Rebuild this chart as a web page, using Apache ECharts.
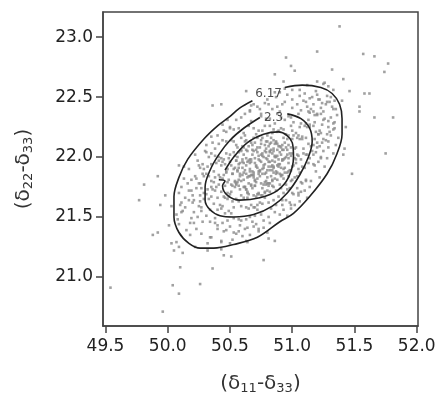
<!DOCTYPE html>
<html>
<head>
<meta charset="utf-8">
<script src="https://cdn.jsdelivr.net/npm/echarts@6/dist/echarts.min.js"></script>
<style>
html, body { margin: 0; padding: 0; background: #fff; }
#main { width: 437px; height: 393px; }
</style>
</head>
<body>
<div id="main"></div>
<script>
var xTicks = [49.5, 50.0, 50.5, 51.0, 51.5, 52.0];
var yTicks = [21.0, 21.5, 22.0, 22.5, 23.0];

// points, dense middle of the cloud
var cloudCore = [
  [50.70,21.95],[50.87,21.88],[50.51,21.93],[51.05,21.90],[50.64,21.96],[50.77,21.91],[50.35,21.94],[50.94,21.87],[50.83,21.92],[50.58,21.95],
  [50.99,21.89],[50.43,21.93],[50.73,21.88],[50.90,21.94],[50.67,21.96],[50.29,21.90],[50.81,21.92],[51.10,21.91],[50.55,21.97],[50.96,21.87],
  [50.62,21.89],[50.75,21.96],[51.01,21.93],[50.47,21.88],[50.85,21.91],[50.39,21.95],[50.79,21.87],[50.71,21.92],[50.92,21.97],[50.53,21.90],
  [51.17,21.94],[50.66,21.88],[50.88,21.93],[50.44,21.96],[50.82,21.89],[50.60,21.91],[51.03,21.95],[50.32,21.92],[50.76,21.90],[50.97,21.88],
  [50.50,21.96],[50.84,21.93],[50.69,21.87],[51.08,21.92],[50.57,21.94],[50.80,21.89],[50.41,21.97],[50.91,21.91],[50.63,21.93],[50.74,21.88],
  [51.13,21.95],[50.48,21.90],[50.86,21.96],[50.37,21.88],[50.78,21.94],[50.54,21.91],[50.98,21.89],[50.65,21.97],[50.89,21.92],[50.25,21.93],
  [50.93,21.90],[50.61,21.95],[50.72,21.91],[51.06,21.87],[50.46,21.94],[50.81,21.96],[50.56,21.89],[51.00,21.92],[50.68,21.88],[50.84,21.97],
  [50.76,22.01],[50.93,21.98],[50.57,22.04],[51.11,22.02],[50.70,21.99],[50.83,22.06],[50.41,22.00],[51.00,22.03],[50.89,21.98],[50.64,22.05],
  [51.05,22.01],[50.49,21.99],[50.79,22.04],[50.96,22.06],[50.73,21.98],[50.35,22.03],[50.87,22.00],[51.16,22.05],[50.61,22.02],[51.02,21.99],
  [50.68,22.06],[50.81,22.01],[51.07,21.98],[50.53,22.04],[50.91,22.02],[50.45,21.98],[50.85,22.05],[50.77,22.00],[50.98,22.03],[50.59,22.06],
  [51.23,22.00],[50.72,22.04],[50.94,21.99],[50.50,22.02],[50.88,22.06],[50.66,21.98],[51.09,22.03],[50.38,22.01],[50.82,22.05],[51.03,21.98],
  [50.56,22.00],[50.90,22.04],[50.75,22.02],[51.14,21.99],[50.63,22.06],[50.86,22.01],[50.47,22.03],[50.97,21.99],[50.69,22.05],[50.80,21.98],
  [51.19,22.04],[50.54,22.01],[50.92,22.06],[50.43,21.99],[50.84,22.03],[50.60,21.98],[51.04,22.02],[50.71,22.06],[50.95,22.00],[50.31,22.04],
  [50.99,22.01],[50.67,21.98],[50.78,22.05],[51.12,22.02],
  [50.64,21.83],[50.81,21.78],[50.45,21.85],[50.99,21.80],[50.58,21.86],[50.71,21.79],[50.29,21.84],[50.88,21.81],[50.77,21.77],[50.52,21.86],
  [50.93,21.82],[50.37,21.79],[50.67,21.85],[50.84,21.80],[50.61,21.87],[50.23,21.82],[50.75,21.78],[51.04,21.84],[50.49,21.81],[50.90,21.86],
  [50.56,21.79],[50.69,21.83],[50.95,21.77],[50.41,21.85],[50.79,21.80],[50.33,21.84],[50.73,21.86],[50.65,21.78],[50.86,21.82],[50.47,21.87],
  [51.11,21.80],[50.60,21.85],[50.82,21.78],[50.38,21.83],[50.76,21.86],[50.54,21.80],[50.97,21.84],[50.26,21.78],[50.70,21.81],[50.91,21.85],
  [50.44,21.82],[50.78,21.79],[50.63,21.86],[51.02,21.83],[50.51,21.77],[50.74,21.84],[50.35,21.80],[50.85,21.87],[50.57,21.81],[50.68,21.85],
  [51.07,21.79],[50.42,21.83],[50.80,21.78],[50.31,21.86],[50.72,21.82],[50.48,21.79],[50.92,21.85],[50.59,21.80],[50.83,21.84],[50.19,21.81],
  [50.87,21.86],[50.55,21.78],[50.66,21.84],[51.00,21.81]
];

var cloudInner = [
  [50.62,21.75],[50.70,21.80],[50.78,21.86],[50.85,21.92],[50.66,21.90],[50.74,21.97],[50.82,22.04],[50.90,22.09],[50.58,21.84],[50.68,22.02],
  [50.76,21.74],[50.84,21.81],[50.92,21.98],[50.60,21.96],[50.72,22.08],[50.80,22.13],[50.54,21.79],[50.64,21.70],[50.88,21.87],[50.96,22.02],
  [50.57,21.91],[50.69,21.85],[50.77,21.93],[50.86,22.00],[50.73,21.69],[50.81,21.76],[50.89,21.94],[50.63,21.99],[50.75,22.11],[50.83,22.16],
  [50.52,21.86],[50.67,21.77],[50.79,21.99],[50.94,21.91],[50.61,21.81],[50.71,21.93],[50.87,22.12],[50.93,22.06],[50.59,22.05],[50.78,21.71],
  [50.55,21.97],[50.65,21.84],[50.74,21.89],[50.82,21.96],[50.91,21.84],[50.68,22.10],[50.85,22.07],[50.63,21.73],[50.76,22.03],[50.97,21.95],
  [50.70,21.76],[50.80,21.83],[50.88,22.01],[50.56,21.88],[50.66,21.95],[50.73,22.01],[50.84,21.89],[50.90,21.77],[50.61,22.08],[50.79,22.07]
];

var cloudMid = [
  [50.82,22.11],[50.99,22.08],[50.63,22.14],[51.17,22.10],[50.76,22.16],[50.89,22.09],[50.47,22.13],[51.06,22.15],[50.95,22.08],[50.70,22.12],
  [51.11,22.16],[50.55,22.10],[50.85,22.14],[51.02,22.07],[50.79,22.13],[50.41,22.11],[50.93,22.16],[51.22,22.09],[50.67,22.12],[51.08,22.15],
  [50.74,22.08],[50.87,22.13],[51.13,22.11],[50.59,22.16],[50.97,22.10],[50.51,22.14],[50.91,22.08],[50.83,22.12],[51.04,22.16],[50.65,22.09],
  [51.29,22.13],[50.78,22.10],[51.00,22.15],[50.56,22.08],[50.94,22.12],[50.72,22.16],[51.15,22.09],[50.44,22.14],[50.88,22.11],[51.09,22.07],
  [50.62,22.13],[50.96,22.15],[50.81,22.09],[51.20,22.12],[50.69,22.16],[50.92,22.10],[50.53,22.13],[51.03,22.08],[50.75,22.14],[50.86,22.11],
  [51.25,22.15],[50.60,22.09],
  [50.58,21.73],[50.75,21.68],[50.39,21.75],[50.93,21.70],[50.52,21.76],[50.65,21.69],[50.23,21.74],[50.82,21.71],[50.71,21.67],[50.46,21.76],
  [50.87,21.72],[50.31,21.69],[50.61,21.75],[50.78,21.70],[50.55,21.77],[50.17,21.72],[50.69,21.68],[50.98,21.74],[50.43,21.71],[50.84,21.76],
  [50.50,21.69],[50.63,21.73],[50.89,21.67],[50.35,21.75],[50.73,21.70],[50.27,21.74],[50.67,21.76],[50.59,21.68],[50.80,21.72],[50.41,21.77],
  [51.05,21.70],[50.54,21.75],[50.76,21.68],[50.32,21.73],[50.70,21.76],[50.48,21.70],[50.91,21.74],[50.20,21.68],[50.64,21.71],[50.85,21.75],
  [50.38,21.72],[50.72,21.69],[50.57,21.76],[50.96,21.73],[50.45,21.67],[50.68,21.74],[50.29,21.70],[50.79,21.77],[50.51,21.71],[50.62,21.75],
  [51.01,21.69],[50.36,21.73],
  [50.88,22.21],[51.05,22.18],[50.69,22.24],[51.23,22.20],[50.82,22.26],[50.95,22.19],[50.53,22.23],[51.12,22.25],[51.01,22.18],[50.76,22.22],
  [51.17,22.26],[50.61,22.20],[50.91,22.24],[51.08,22.17],[50.85,22.23],[50.47,22.21],[50.99,22.26],[51.28,22.19],[50.73,22.22],[51.14,22.25],
  [50.80,22.18],[50.93,22.23],[51.19,22.21],[50.65,22.26],[51.03,22.20],[50.57,22.24],[50.97,22.18],[50.89,22.22],[51.10,22.26],[50.71,22.19],
  [51.33,22.23],[50.84,22.20],[51.06,22.25],[50.62,22.18],[51.00,22.22],[50.78,22.26],[51.21,22.19],[50.50,22.24],
  [50.52,21.63],[50.69,21.58],[50.33,21.65],[50.87,21.60],[50.46,21.66],[50.59,21.59],[50.17,21.64],[50.76,21.61],[50.65,21.57],[50.40,21.66],
  [50.81,21.62],[50.25,21.59],[50.55,21.65],[50.72,21.60],[50.49,21.67],[50.11,21.62],[50.63,21.58],[50.92,21.64],[50.37,21.61],[50.78,21.66],
  [50.44,21.59],[50.57,21.63],[50.83,21.57],[50.29,21.65],[50.67,21.60],[50.21,21.64],[50.61,21.66],[50.53,21.58],[50.74,21.62],[50.35,21.67],
  [50.99,21.60],[50.48,21.65],[50.70,21.58],[50.26,21.63],[50.64,21.66],[50.42,21.60],[50.85,21.64],[50.14,21.58]
];

// ring between the 2.3 and 6.17 contours
var cloudRing = [
  [51.12,22.42],[51.20,22.36],[51.27,22.44],[51.16,22.50],[51.31,22.33],[51.24,22.27],[51.35,22.40],[51.09,22.47],[51.19,22.55],[51.28,22.51],
  [51.13,22.31],[51.22,22.22],[51.33,22.28],[51.17,22.44],[51.25,22.38],[51.10,22.53],[51.30,22.46],[51.21,22.48],[51.36,22.35],[51.14,22.37],
  [51.26,22.32],[51.18,22.29],[51.32,22.42],[51.06,22.56],[51.23,22.41],[51.29,22.25],[51.11,22.46],[51.34,22.47],[51.20,22.52],[51.15,22.40],
  [51.18,22.15],[51.25,22.05],[51.31,22.18],[51.21,21.96],[51.35,22.10],[51.19,21.88],[51.28,21.99],[51.24,22.12],[51.33,22.03],[51.17,22.02],
  [51.22,21.83],[51.30,22.21],[51.26,21.92],[51.37,22.16],[51.20,22.08],[51.15,21.80],[51.29,22.08],[51.23,21.99],[51.34,22.24],[51.18,21.93],
  [51.27,22.14],[51.21,22.19],
  [50.98,21.62],[51.05,21.68],[51.10,21.72],[50.93,21.56],[51.02,21.60],[51.08,21.78],[50.96,21.51],[51.12,21.66],[51.00,21.70],[50.90,21.52],
  [51.06,21.63],[51.14,21.75],[50.99,21.57],[51.04,21.74],[50.95,21.64],[51.11,21.81],[50.92,21.60],[51.07,21.71],
  [50.45,21.38],[50.58,21.43],[50.66,21.35],[50.38,21.45],[50.52,21.31],[50.71,21.44],[50.62,21.40],[50.48,21.47],[50.35,21.33],[50.77,21.41],
  [50.55,21.36],[50.43,21.30],[50.68,21.46],[50.60,21.34],[50.82,21.45],[50.40,21.40],[50.50,21.42],[50.73,21.38],[50.32,21.28],[50.64,21.29],
  [50.12,21.55],[50.20,21.62],[50.09,21.70],[50.24,21.50],[50.16,21.78],[50.26,21.68],[50.10,21.60],[50.18,21.45],[50.22,21.84],[50.14,21.66],
  [50.27,21.58],[50.08,21.48],[50.19,21.72],[50.25,21.78],[50.13,21.82],[50.21,21.54],[50.28,21.86],[50.17,21.90],[50.11,21.75],[50.23,21.40],
  [50.24,21.97],[50.30,22.05],[50.36,22.12],[50.28,21.94],[50.33,22.00],[50.40,22.18],[50.45,22.22],[50.22,22.02],[50.38,22.07],[50.44,22.27],
  [50.31,22.10],[50.50,22.25],[50.26,21.91],[50.35,22.17],[50.48,22.31],
  [50.66,22.39],[50.78,22.45],[50.87,22.50],[50.72,22.42],[50.92,22.44],[50.84,22.40],[50.96,22.52],[50.62,22.36],[50.80,22.48],[50.75,22.36],
  [50.90,22.38],[51.00,22.48],[50.69,22.44],[50.86,22.54],[50.94,22.57]
];

var cloudOuter = [
  [50.94,22.31],[51.11,22.28],[50.75,22.34],[51.29,22.30],[50.88,22.36],[51.01,22.29],[50.59,22.33],[51.18,22.35],[51.07,22.28],[50.82,22.32],
  [51.23,22.36],[50.67,22.30],[50.97,22.34],[51.14,22.27],[50.91,22.33],[50.55,22.31],[51.05,22.36],[51.34,22.29],[50.79,22.32],[51.20,22.35],
  [50.86,22.28],[50.99,22.33],[51.25,22.31],
  [50.46,21.53],[50.63,21.48],[50.27,21.55],[50.81,21.50],[50.40,21.56],[50.53,21.49],[50.11,21.54],[50.70,21.51],[50.59,21.47],[50.34,21.56],
  [50.75,21.52],[50.19,21.49],[50.49,21.55],[50.66,21.50],[50.43,21.57],[50.07,21.52],[50.57,21.48],[50.86,21.54],[50.31,21.51],[50.72,21.56],
  [50.38,21.49],[50.51,21.53],[50.77,21.47],
  [51.00,22.41],[51.17,22.38],[50.81,22.44],[51.33,22.40],[50.94,22.46],[51.07,22.39],[50.67,22.43],[51.24,22.45],[51.13,22.38],[50.88,22.42],
  [51.28,22.46],[50.74,22.40],[51.04,22.44],
  [50.40,21.43],[50.57,21.38],[50.21,21.45],[50.73,21.40],[50.34,21.46],[50.47,21.39],[50.09,21.44],[50.64,21.41],[50.53,21.37],[50.28,21.46],
  [50.69,21.42],[50.15,21.39],[50.44,21.45],
  [51.06,22.51],[51.22,22.48],[50.90,22.54],[51.31,22.50],[51.00,22.56],[51.14,22.49],
  [50.34,21.33],[50.50,21.28],[50.18,21.35],[50.63,21.30],[50.27,21.36],[50.43,21.29],
  [51.12,22.60],[51.26,22.62],[50.32,21.22],[50.22,21.25]
];

var outliers = [
  [50.63,22.55],[50.36,22.43],[50.43,22.44],[50.66,22.38],[51.38,23.09],[51.20,22.88],[50.95,22.83],[51.57,22.86],
  [51.66,22.84],[51.77,22.78],[51.74,22.71],[50.99,22.76],[51.02,22.72],[50.86,22.69],[51.32,22.73],[51.41,22.65],
  [50.93,22.63],[51.46,22.55],[51.58,22.53],[51.62,22.53],[51.54,22.42],[51.54,22.38],[51.66,22.33],[51.81,22.33],
  [51.75,22.03],[51.48,21.86],[51.42,22.07],[51.43,22.25],[51.41,22.02],[49.92,21.84],[49.81,21.77],[49.77,21.64],
  [49.98,21.68],[49.94,21.60],[50.03,21.59],[50.09,21.93],[50.13,21.92],[49.88,21.35],[49.92,21.37],[50.01,21.43],
  [50.03,21.28],[50.07,21.29],[50.09,21.25],[50.05,21.22],[50.12,21.20],[50.10,21.08],[50.36,21.07],[50.45,21.18],
  [50.51,21.17],[50.43,21.23],[50.04,20.93],[50.26,20.94],[50.09,20.86],[49.54,20.91],[49.96,20.71],[50.80,21.37],
  [50.81,21.32],[50.86,21.30],[50.77,21.14],[51.20,22.63],[51.25,22.61],[51.29,22.59],[51.33,22.56],[51.40,22.47]
];

// contour lines, left open where the labels sit
var contour617 = [
  [50.94,22.58],[51.08,22.60],[51.23,22.58],[51.32,22.53],[51.38,22.44],[51.40,22.32],[51.40,22.19],[51.36,22.03],
  [51.28,21.86],[51.14,21.67],[51.01,21.53],[50.90,21.46],[50.72,21.33],[50.53,21.27],[50.37,21.24],[50.26,21.24],
  [50.17,21.28],[50.09,21.37],[50.05,21.50],[50.05,21.67],[50.09,21.83],[50.16,21.98],[50.29,22.15],[50.40,22.26],
  [50.49,22.33],[50.58,22.41],[50.68,22.47]
];
var contour23 = [
  [50.96,22.36],[51.07,22.32],[51.14,22.24],[51.16,22.13],[51.13,22.00],[51.06,21.85],[50.96,21.70],[50.84,21.59],
  [50.69,21.52],[50.53,21.50],[50.42,21.51],[50.34,21.56],[50.30,21.64],[50.30,21.75],[50.34,21.89],[50.41,22.02],
  [50.50,22.14],[50.61,22.24],[50.74,22.33]
];
var contourInner = [
  [50.41,21.81],[50.46,21.80],[50.44,21.76],[50.48,21.68],[50.58,21.64],[50.74,21.66],[50.88,21.72],[50.97,21.83],
  [51.01,22.00],[51.00,22.12],[50.89,22.21],[50.77,22.19],[50.64,22.12],[50.53,22.00],[50.46,21.89]
];
var contourNames = ['6.17', '2.3'];
var contourLabelAt = [[50.81, 22.525], [50.85, 22.33]];

function draw_chart() {
  var dom = document.getElementById('main');
  var myChart = echarts.init(dom, null, { renderer: 'canvas' });

  var labelData = contourNames.map(function (n, i) {
    return { name: n, value: contourLabelAt[i] };
  });

  var lineStyle = { color: '#222', width: 1.6 };
  var fmt = function (v) { return v.toFixed(1); };
  var sub = { fontSize: 13, fontFamily: 'DejaVu Sans', color: '#333', verticalAlign: 'bottom', padding: [10, 0, 0, 0] };
  var nameStyle = { fontSize: 20, fontFamily: 'DejaVu Sans', color: '#333', rich: { s: sub } };

  var option = {
    animation: false,
    backgroundColor: '#fff',
    grid: {
      left: 103, right: 19, top: 12, bottom: 67,
      outerBoundsMode: 'none',
      containLabel: false,
      show: true, borderColor: '#444', borderWidth: 1.5
    },
    xAxis: {
      type: 'value',
      min: 49.48, max: 52.01,
      name: '(δ{s|11}-δ{s|33})',
      nameLocation: 'middle',
      nameGap: 46,
      nameTextStyle: nameStyle,
      axisLine: { show: true, lineStyle: { color: '#444', width: 1.5 } },
      axisTick: { show: true, length: 7, customValues: xTicks, lineStyle: { color: '#444', width: 1.5 } },
      axisLabel: { customValues: xTicks, formatter: fmt, margin: 12, fontSize: 17, fontFamily: 'DejaVu Sans', color: '#222' },
      splitLine: { show: false }
    },
    yAxis: {
      type: 'value',
      min: 20.59, max: 23.21,
      name: '(δ{s|22}-δ{s|33})',
      nameLocation: 'middle',
      nameGap: 68,
      nameTextStyle: nameStyle,
      axisLine: { show: true, lineStyle: { color: '#444', width: 1.5 } },
      axisTick: { show: true, length: 7, customValues: yTicks, lineStyle: { color: '#444', width: 1.5 } },
      axisLabel: { customValues: yTicks, formatter: fmt, margin: 10, fontSize: 17, fontFamily: 'DejaVu Sans', color: '#222' },
      splitLine: { show: false }
    },
    series: [
      {
        type: 'scatter',
        symbol: 'rect',
        symbolSize: 2.6,
        itemStyle: { color: '#8a8a8a' },
        data: cloudCore.concat(cloudInner, cloudMid, cloudRing, cloudOuter, outliers),
        z: 2
      },
      { type: 'line', data: contour617, smooth: 0.35, symbol: 'none', lineStyle: lineStyle, z: 3 },
      { type: 'line', data: contour23, smooth: 0.35, symbol: 'none', lineStyle: lineStyle, z: 3 },
      { type: 'line', data: contourInner, smooth: 0.35, symbol: 'none', lineStyle: lineStyle, z: 3 },
      {
        type: 'scatter',
        symbolSize: 0,
        data: labelData,
        label: {
          show: true, position: 'inside', formatter: '{b}',
          fontSize: 12, fontFamily: 'DejaVu Sans', color: '#222'
        },
        z: 4
      }
    ]
  };

  myChart.setOption(option);
  window.addEventListener('resize', myChart.resize);
}
draw_chart();
</script>
</body>
</html>
